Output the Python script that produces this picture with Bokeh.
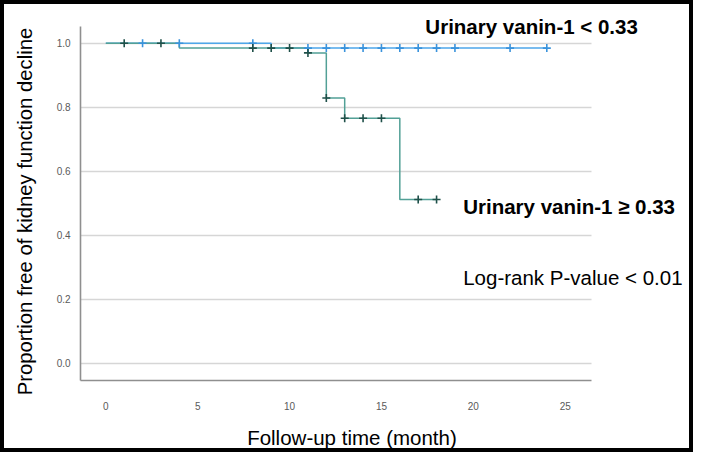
import math
from bokeh.plotting import figure
from bokeh.models import Label, FixedTicker, Range1d, NumeralTickFormatter
from bokeh.embed import file_html
from bokeh.resources import INLINE

# ---- data ----
times_low = [0, 9, 24]
surv_low = [1.0, 0.985, 0.985]
censor_low = [2, 4, 8, 11, 12, 13, 14, 15, 16, 17, 18, 19, 22, 24]

times_high = [0, 4, 11, 12, 13, 16, 18]
surv_high = [1.0, 0.985, 0.970, 0.829, 0.766, 0.512, 0.512]
censor_high = [1, 3, 8, 9, 10, 11, 12, 13, 14, 15, 17, 18]

x_ticks = [0, 5, 10, 15, 20, 25]
y_ticks = [0.0, 0.2, 0.4, 0.6, 0.8, 1.0]

label_low = "Urinary  vanin-1 < 0.33"
label_high = "Urinary  vanin-1 \u2265 0.33"
label_p = "Log-rank P-value < 0.01"
x_title = "Follow-up  time (month)"
y_title = "Proportion free of kidney function decline"


def surv_at(t, times, surv):
    s = surv[0]
    for ti, si in zip(times, surv):
        if ti <= t:
            s = si
    return s


FONT = "Liberation Sans"
BLUE_LINE = "#4ea7ea"
BLUE_MARK = "#3a93dc"
GREEN_LINE = "#52a096"
GREEN_MARK = "#1f5049"

# visible axis extents
X_LO, X_HI = -1.37, 26.45
Y_LO, Y_HI = -0.054, 1.052

p = figure(width=693, height=452, output_backend="svg", toolbar_location=None,
           x_range=Range1d(-5.732, 31.983), y_range=Range1d(-0.2785, 1.1337),
           min_border=0)
# frame covers the whole canvas: its outline is the black picture border
p.outline_line_color = "black"
p.outline_line_width = 7
p.background_fill_color = "white"
p.border_fill_color = "white"

p.xgrid.visible = False
p.ygrid.grid_line_color = "#d6d6d6"
p.ygrid.grid_line_width = 1.6
p.ygrid.ticker = FixedTicker(ticks=y_ticks)
try:
    p.ygrid.cross_bounds = (X_LO, X_HI)
    manual_grid = False
except Exception:
    p.ygrid.visible = False
    manual_grid = True

if manual_grid:
    p.segment(x0=[X_LO] * len(y_ticks), x1=[X_HI] * len(y_ticks), y0=y_ticks, y1=y_ticks,
              line_color="#d6d6d6", line_width=1.6)

for ax in (p.xaxis[0], p.yaxis[0]):
    ax.axis_line_color = "#8f8f8f"
    ax.axis_line_width = 1.6
    ax.major_tick_line_color = None
    ax.minor_tick_line_color = None
    ax.major_label_text_font = FONT
    ax.major_label_text_font_size = "10px"
    ax.major_label_text_color = "#5a5a5a"

p.xaxis.ticker = FixedTicker(ticks=x_ticks)
p.yaxis.ticker = FixedTicker(ticks=y_ticks)
p.yaxis.formatter = NumeralTickFormatter(format="0.0")
p.xaxis.major_label_standoff = 15
p.yaxis.major_label_standoff = 4
p.xaxis.fixed_location = Y_LO
p.yaxis.fixed_location = X_LO
p.xaxis.bounds = (X_LO, X_HI)
p.yaxis.bounds = (Y_LO, Y_HI)

# curves
p.step(times_low, surv_low, mode="after", line_color=BLUE_LINE, line_width=1.5)
p.step(times_high, surv_high, mode="after", line_color=GREEN_LINE, line_width=1.5)

p.scatter(censor_low, [surv_at(t, times_low, surv_low) for t in censor_low],
          marker="cross", size=8, line_color=BLUE_MARK, line_width=1.6)
p.scatter(censor_high, [surv_at(t, times_high, surv_high) for t in censor_high],
          marker="cross", size=8, line_color=GREEN_MARK, line_width=1.6)

# annotations
common = dict(text_font=FONT, text_color="black", text_baseline="alphabetic")
p.add_layout(Label(x=17.39, y=1.053, text=label_low, text_font_size="20.5px",
                   text_font_style="bold", **common))
p.add_layout(Label(x=19.45, y=0.490, text=label_high, text_font_size="20.5px",
                   text_font_style="bold", **common))
p.add_layout(Label(x=19.45, y=0.2667, text=label_p, text_font_size="20.5px", **common))
p.add_layout(Label(x=13.55, y=-0.2323, text=x_title, text_font_size="20.5px",
                   text_align="center", **common))
p.add_layout(Label(x=-4.40, y=0.4743, text=y_title, text_font_size="20.3px",
                   text_align="center", angle=math.pi / 2, **common))

open("out.html", "w").write(file_html(p, INLINE))
